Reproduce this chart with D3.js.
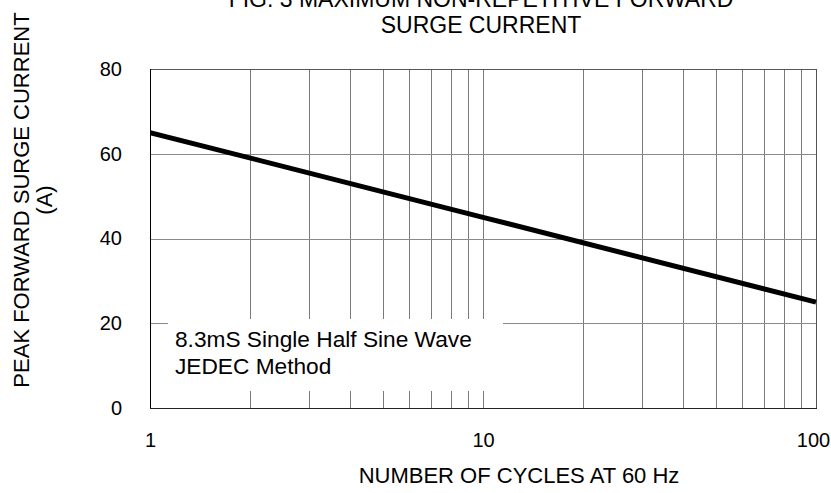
<!DOCTYPE html>
<html>
<head>
<meta charset="utf-8">
<script src="https://cdn.jsdelivr.net/npm/d3@7"></script>
<style>
  body { margin: 0; background: #fff; }
  text { font-family: "Liberation Sans", Arial, sans-serif; fill: #000; }
</style>
</head>
<body>
<div id="chart"></div>
<script>
// Data
var cycles = [1, 10, 100];
var surgeCurrent = [65, 45, 25];
var yTicks = [0, 20, 40, 60, 80];
var xTicks = [1, 10, 100];
var titleLines = ["FIG. 3 MAXIMUM  NON-REPETITIVE FORWARD", "SURGE CURRENT"];
var yLabelLines = ["PEAK FORWARD SURGE CURRENT", "(A)"];
var xLabel = "NUMBER OF CYCLES AT 60 Hz";
var noteLines = ["8.3mS Single Half Sine Wave", "JEDEC Method"];

// Chart size
var margin = { top: 69, right: 15, bottom: 85, left: 150 },
  width = 831 - margin.left - margin.right,
  height = 493 - margin.top - margin.bottom;

var svg = d3.select("#chart")
  .append("svg")
  .attr("width", 831)
  .attr("height", 493);

var g = svg.append("g")
  .attr("transform", "translate(" + margin.left + "," + margin.top + ")");

// Scales
var x = d3.scaleLog().domain([1, 100]).range([0, width]);
var y = d3.scaleLinear().domain([0, 80]).range([height, 0]);

// Vertical grid (log minor lines)
g.selectAll(".vgrid")
  .data(x.ticks().filter(function (d) { return d > 1 && d < 100; }))
  .enter()
  .append("line")
  .attr("x1", function (d) { return Math.round(x(d)) + 0.5; })
  .attr("x2", function (d) { return Math.round(x(d)) + 0.5; })
  .attr("y1", 0)
  .attr("y2", height)
  .attr("stroke", "#7a7a7a")
  .attr("stroke-width", 1);

// Horizontal grid
g.selectAll(".hgrid")
  .data(yTicks.filter(function (d) { return d > 0 && d < 80; }))
  .enter()
  .append("line")
  .attr("x1", 0)
  .attr("x2", width)
  .attr("y1", function (d) { return Math.round(y(d)) + 0.5; })
  .attr("y2", function (d) { return Math.round(y(d)) + 0.5; })
  .attr("stroke", "#8a8a8a")
  .attr("stroke-width", 1);

// Note box covers the grid behind the text
g.append("rect")
  .attr("x", 18)
  .attr("y", 250)
  .attr("width", 335)
  .attr("height", 72)
  .attr("fill", "#fff");

g.selectAll(".note")
  .data(noteLines)
  .enter()
  .append("text")
  .attr("x", 25)
  .attr("y", function (d, i) { return 278 + i * 27; })
  .style("font-size", "22.7px")
  .text(function (d) { return d; });

// Plot frame
g.append("rect")
  .attr("x", 0.5)
  .attr("y", 0.5)
  .attr("width", width)
  .attr("height", height)
  .attr("fill", "none")
  .attr("stroke", "#555");
g.append("line")
  .attr("x1", 0.5).attr("x2", 0.5).attr("y1", 0).attr("y2", height + 1)
  .attr("stroke", "#000");
g.append("line")
  .attr("x1", 0).attr("x2", width + 1).attr("y1", height + 0.5).attr("y2", height + 0.5)
  .attr("stroke", "#222");

// Surge current line
g.append("clipPath")
  .attr("id", "plotclip")
  .append("rect")
  .attr("width", width + 1)
  .attr("height", height);

var line = d3.line()
  .x(function (d, i) { return x(cycles[i]); })
  .y(function (d) { return y(d); });

g.append("path")
  .datum(surgeCurrent)
  .attr("clip-path", "url(#plotclip)")
  .attr("d", line)
  .attr("fill", "none")
  .attr("stroke", "#000")
  .attr("stroke-width", 5);

// Axes (labels only)
var yaxis = g.append("g")
  .call(d3.axisLeft(y).tickValues(yTicks).tickSize(0).tickPadding(28));
yaxis.select(".domain").remove();
yaxis.selectAll("text").style("font-size", "20px").attr("fill", "#000");

var xaxis = g.append("g")
  .attr("transform", "translate(0," + height + ")")
  .call(d3.axisBottom(x).tickValues(xTicks).tickFormat(d3.format("d")).tickSize(0).tickPadding(25));
xaxis.select(".domain").remove();
xaxis.selectAll("text")
  .style("font-size", "20px")
  .attr("fill", "#000")
  .attr("dx", function (d) { return d === 100 ? -3 : 0; });

// Title
svg.selectAll(".title")
  .data(titleLines)
  .enter()
  .append("text")
  .attr("x", 481)
  .attr("y", function (d, i) { return 7 + i * 26; })
  .attr("text-anchor", "middle")
  .style("font-size", "23px")
  .text(function (d) { return d; });

// X label
svg.append("text")
  .attr("x", 519)
  .attr("y", 483)
  .attr("text-anchor", "middle")
  .style("font-size", "22px")
  .text(xLabel);

// Y label
svg.selectAll(".ylabel")
  .data(yLabelLines)
  .enter()
  .append("text")
  .attr("transform", function (d, i) {
    return "translate(" + (29 + i * 23) + ",200) rotate(-90)";
  })
  .attr("text-anchor", "middle")
  .style("font-size", "22px")
  .text(function (d) { return d; });
</script>
</body>
</html>
